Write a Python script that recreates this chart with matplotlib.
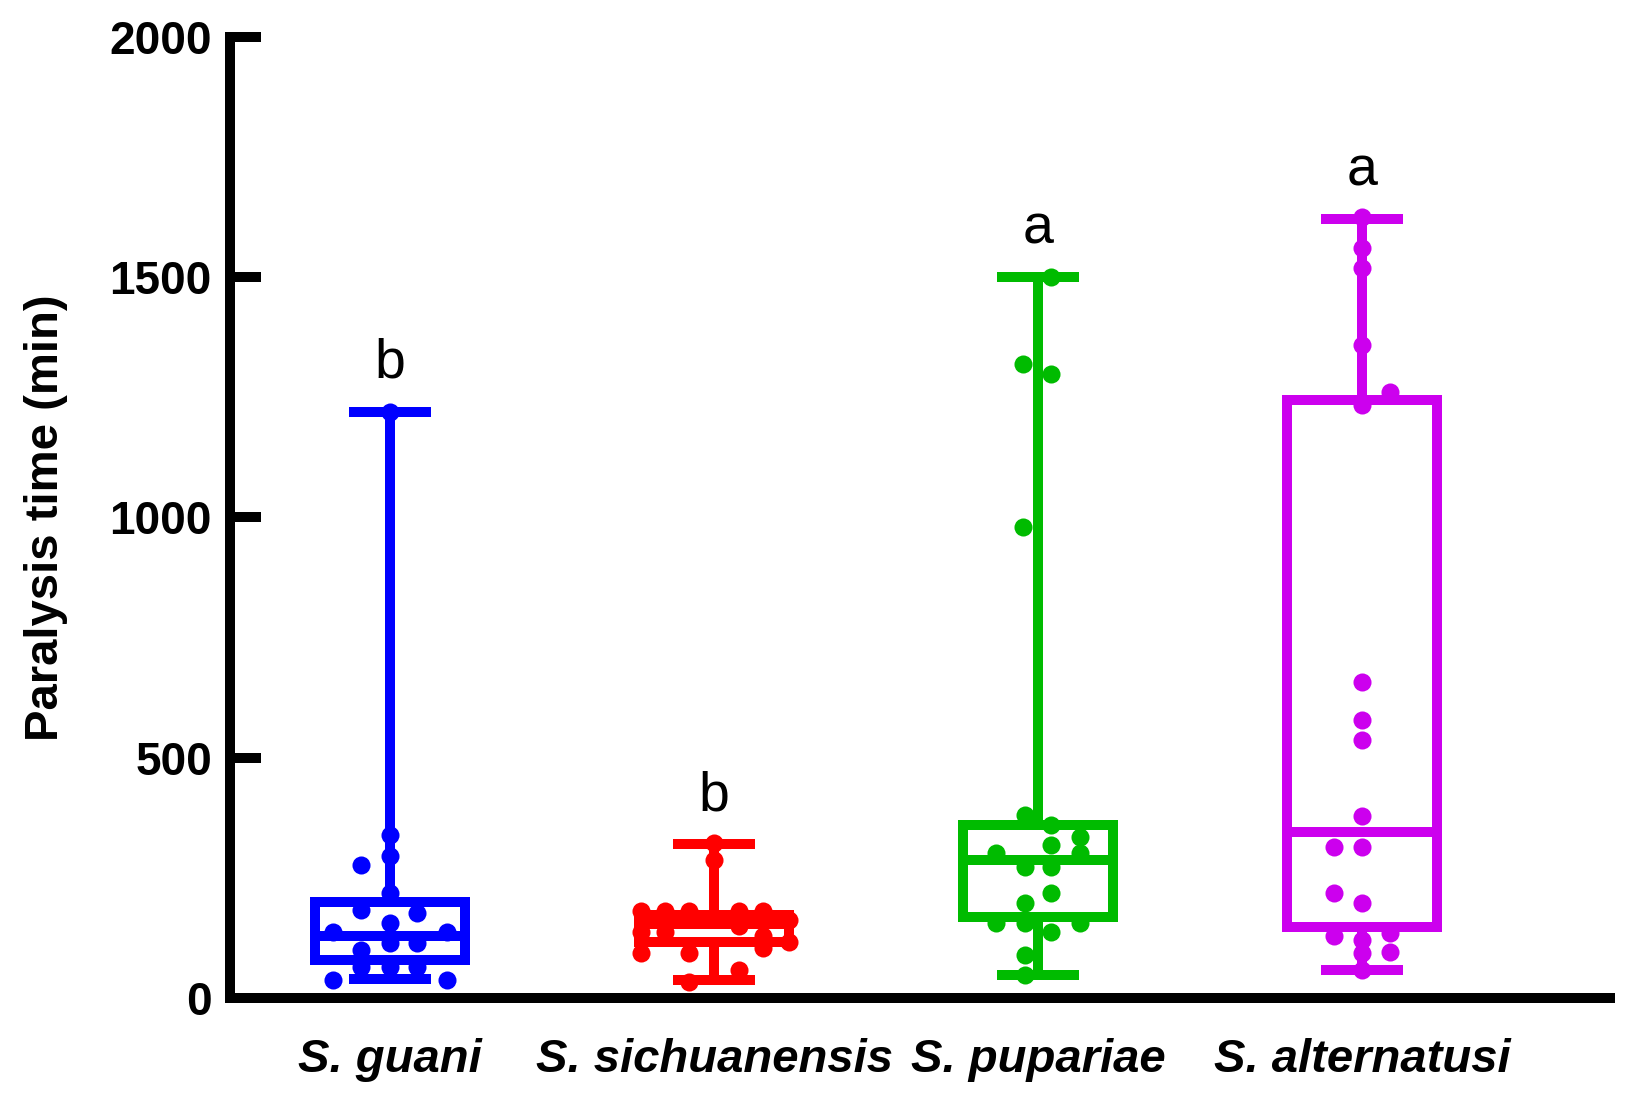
import matplotlib
matplotlib.use("Agg")
import matplotlib.pyplot as plt
import numpy as np

plt.rcParams['font.family'] = ['Liberation Sans', 'DejaVu Sans']

species = ['S. guani', 'S. sichuanensis', 'S. pupariae', 'S. alternatusi']
colors = ['#0000ff', '#ff0000', '#00bb00', '#cc00ee']
letters = ['b', 'b', 'a', 'a']

# box stats (min, q1, median, q3, max)
whis_lo = [40, 37, 48, 58]
q1 = [79, 117, 169, 148]
median = [128, 154, 287, 346]
q3 = [200, 173, 360, 1245]
whis_hi = [1220, 320, 1500, 1620]

# individual points: values and horizontal jitter (category units)
guani_y = [1220, 339, 295, 277, 218, 183, 177, 157, 138, 138, 114, 114, 100, 65, 65, 65, 37, 37]
guani_dx = [0, 0, 0, -0.088, 0, -0.088, 0.083, 0, -0.176, 0.176, 0, 0.083, -0.088, -0.088, 0, 0.083, -0.176, 0.176]

sich_y = [322, 287, 180, 180, 180, 180, 180, 162, 138, 138, 150, 130, 117, 93, 93, 103, 58, 34]
sich_dx = [0, 0, -0.225, -0.15, -0.077, 0.077, 0.15, 0.23, -0.225, -0.15, 0.077, 0.15, 0.23, -0.225, -0.077, 0.15, 0.077, -0.077]

pup_y = [1500, 1320, 1299, 980, 381, 360, 336, 318, 301, 301, 273, 273, 218, 197, 156, 156, 156, 138, 89, 48]
pup_dx = [0.041, -0.046, 0.041, -0.046, -0.041, 0.041, 0.13, 0.041, -0.13, 0.13, -0.041, 0.041, 0.041, -0.041, -0.13, -0.041, 0.13, 0.041, -0.041, -0.041]

alt_y = [1625, 1560, 1518, 1358, 1261, 1234, 658, 578, 537, 378, 315, 315, 218, 197, 128, 135, 121, 96, 93, 58]
alt_dx = [0, 0, 0, 0, 0.087, 0, 0, 0, 0, 0, -0.088, 0, -0.088, 0, -0.088, 0.087, 0, 0.087, 0, 0]

points_y = [guani_y, sich_y, pup_y, alt_y]
points_dx = [guani_dx, sich_dx, pup_dx, alt_dx]

fig = plt.figure(figsize=(16.33, 10.99), dpi=100)
ax = fig.add_axes([0.1408, 0.0919, 0.8451, 0.8747])

lw = 7.2
for i in range(4):
    c = colors[i]
    st = [dict(med=median[i], q1=q1[i], q3=q3[i], whislo=whis_lo[i], whishi=whis_hi[i])]
    ax.bxp(st, positions=[i], widths=0.464, capwidths=0.22, showfliers=False,
           boxprops=dict(color=c, lw=lw, solid_joinstyle='miter'),
           whiskerprops=dict(color=c, lw=lw),
           capprops=dict(color=c, lw=lw),
           medianprops=dict(color=c, lw=lw),
           manage_ticks=False)
    xs = i + np.array(points_dx[i])
    ax.plot(xs, points_y[i], 'o', color=c, ms=13, mec='none', zorder=4, clip_on=False)
    ax.text(i, whis_hi[i] + 70, letters[i], ha='center', va='baseline', fontsize=40)

ax.set_xlim(-0.494, 3.765)
ax.set_ylim(0, 2000)
ax.set_yticks([0, 500, 1000, 1500, 2000])
ax.set_xticks(range(4))
ax.set_xticklabels(species, fontsize=34, fontweight='bold', fontstyle='italic')
ax.tick_params(axis='y', direction='in', length=22, width=lw, labelsize=33, pad=13)
ax.tick_params(axis='x', length=0, pad=29)
for lab in ax.get_yticklabels():
    lab.set_fontweight('bold')
ax.set_ylabel('Paralysis time (min)', fontsize=34, fontweight='bold', labelpad=30)

for s in ['top', 'right']:
    ax.spines[s].set_visible(False)
for s in ['left', 'bottom']:
    ax.spines[s].set_linewidth(lw)
    ax.spines[s].set_capstyle('projecting')

fig.savefig('out.png', dpi=100)
